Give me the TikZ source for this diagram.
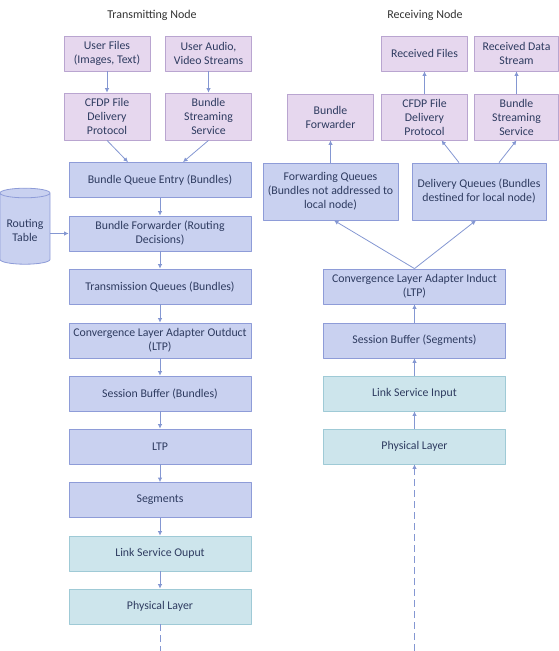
\documentclass[tikz,border=0pt]{standalone}
\usepackage{fontspec}
\setmainfont{Carlito}
\usetikzlibrary{arrows.meta,shapes.geometric}
\definecolor{purplefill}{HTML}{E6D7EE}
\definecolor{purpleline}{HTML}{B9A5D0}
\definecolor{bluefill}{HTML}{C9D1F0}
\definecolor{blueline}{HTML}{8E9CD8}
\definecolor{tealfill}{HTML}{CDE5EC}
\definecolor{tealline}{HTML}{9FCAD6}
\definecolor{arrowcol}{HTML}{8497D2}
\definecolor{textcol}{HTML}{2E3B60}
\tikzset{
  box/.style={draw, line width=0.8pt, align=center, inner sep=2pt, text=textcol,
    font=\fontsize{11.8}{14}\selectfont, minimum height=35pt},
  purplebox/.style={box, fill=purplefill, draw=purpleline, minimum width=86pt},
  bluebox/.style={box, fill=bluefill, draw=blueline, minimum width=182pt},
  tealbox/.style={box, fill=tealfill, draw=tealline, minimum width=182pt},
  arr/.style={draw=arrowcol, line width=0.8pt, -{Latex[length=4.5pt,width=4.5pt]}},
  title/.style={font=\fontsize{12}{14}\selectfont, text=black!80}
}
\begin{document}
\begin{tikzpicture}[x=1pt, y=-1pt, line join=round]
    \useasboundingbox (0,0) rectangle (559,651);

    % titles
    \node[title] (txtitle) at (152,15) {Transmitting Node};
    \node[title] (rxtitle) at (425,15) {Receiving Node};

    % transmitting node
    \node[purplebox] (userfiles) at (107,53.5) {User Files\\(Images, Text)};
    \node[purplebox] (useraudio) at (208.5,53.5) {User Audio,\\Video Streams};
    \node[purplebox, minimum height=47pt] (cfdptx) at (107,116.5) {CFDP File\\Delivery\\Protocol};
    \node[purplebox, minimum height=47pt] (bsstx) at (208.5,116.5) {Bundle\\Streaming\\Service};

    \node[bluebox] (queueentry) at (160,180) {Bundle Queue Entry (Bundles)};
    \node[bluebox] (forwardtx) at (160,233.5) {Bundle Forwarder (Routing\\Decisions)};
    \node[bluebox] (txqueues) at (160,286.5) {Transmission Queues (Bundles)};
    \node[bluebox] (claout) at (160,340.5) {Convergence Layer Adapter Outduct\\(LTP)};
    \node[bluebox] (buffertx) at (160,393.5) {Session Buffer (Bundles)};
    \node[bluebox] (ltp) at (160,446.5) {LTP};
    \node[bluebox] (segments) at (160,500) {Segments};
    \node[tealbox] (linkout) at (160,553.5) {Link Service Ouput};
    \node[tealbox] (phytx) at (160,606.5) {Physical Layer};

    % routing table
    \node[cylinder, shape border rotate=90, aspect=0.22, draw=blueline, fill=bluefill,
      line width=0.8pt, minimum height=76pt, minimum width=50pt, text=textcol, align=center,
      font=\fontsize{11.8}{14}\selectfont] (routing) at (25,230) {Routing\\Table};

    \draw[arr] (userfiles) -- (cfdptx);
    \draw[arr] (useraudio) -- (bsstx);
    \draw[arr] (cfdptx.south) -- ([xshift=-32pt]queueentry.north);
    \draw[arr] (bsstx.south) -- ([xshift=23pt]queueentry.north);
    \draw[arr] (routing.east |- forwardtx.west) -- (forwardtx.west);
    \foreach \a/\b in {queueentry/forwardtx, forwardtx/txqueues, txqueues/claout,
        claout/buffertx, buffertx/ltp, ltp/segments, segments/linkout, linkout/phytx} {
        \draw[arr] (\a) -- (\b);
    }
    \coordinate (txend) at (160,651);
    \draw[draw=arrowcol, line width=0.8pt, dash pattern=on 7pt off 4pt] (phytx.south) -- (txend);

    % receiving node
    \node[purplebox] (rxfiles) at (424.5,53.5) {Received Files};
    \node[purplebox, minimum width=84pt] (rxstream) at (516.5,53.5) {Received Data\\Stream};
    \node[purplebox, minimum height=46pt] (forwardrx) at (330.5,117) {Bundle\\Forwarder};
    \node[purplebox, minimum height=46pt] (cfdprx) at (424.5,117) {CFDP File\\Delivery\\Protocol};
    \node[purplebox, minimum height=46pt, minimum width=84pt] (bssrx) at (516.5,117) {Bundle\\Streaming\\Service};

    \node[bluebox, minimum width=135pt, minimum height=57pt] (fwdqueues) at (330.5,191.5)
      {Forwarding Queues\\(Bundles not addressed to\\local node)};
    \node[bluebox, minimum width=134pt, minimum height=57pt] (delqueues) at (479,191.5)
      {Delivery Queues (Bundles\\destined for local node)};

    \node[bluebox] (clain) at (414.5,286.5) {Convergence Layer Adapter Induct\\(LTP)};
    \node[bluebox] (bufferrx) at (414.5,340.5) {Session Buffer (Segments)};
    \node[tealbox] (linkin) at (414.5,393.5) {Link Service Input};
    \node[tealbox] (phyrx) at (414.5,446.5) {Physical Layer};

    \draw[arr] (cfdprx) -- (rxfiles);
    \draw[arr] (bssrx) -- (rxstream);
    \draw[arr] (fwdqueues) -- (forwardrx);
    \draw[arr] ([xshift=-20pt]delqueues.north) -- ([xshift=17pt]cfdprx.south);
    \draw[arr] ([xshift=20pt]delqueues.north) -- (bssrx.south);
    \draw[arr] (clain.north) -- ([xshift=3.5pt]fwdqueues.south);
    \draw[arr] (clain.north) -- ([xshift=-3pt]delqueues.south);
    \foreach \a/\b in {bufferrx/clain, linkin/bufferrx, phyrx/linkin} {
        \draw[arr] (\a) -- (\b);
    }
    \coordinate (rxstart) at (414.5,651);
    \draw[arr, dash pattern=on 7pt off 4pt] (rxstart) -- (phyrx.south);
\end{tikzpicture}
\end{document}
